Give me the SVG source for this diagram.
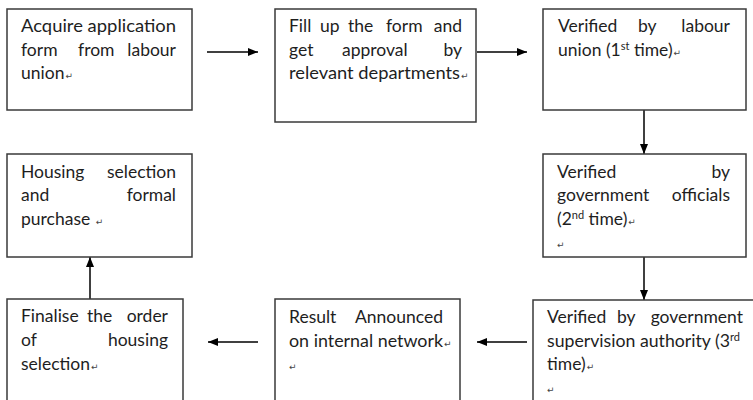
<svg xmlns="http://www.w3.org/2000/svg" width="753" height="400" viewBox="0 0 753 400">
<defs>
<style>
.box{fill:#fff;stroke:#3a3a3a;stroke-width:1.5}
.t{font-family:Lato,"Open Sans","Liberation Sans",sans-serif;font-size:17.5px;fill:#1e1e1e}
.e{text-anchor:end}
.pm{font-family:"DejaVu Sans",sans-serif;font-size:9px;fill:#444}
.sup{font-size:11px}
.c{stroke:#000;stroke-width:1.5;fill:none;marker-end:url(#ah)}
</style>
<marker id="ah" viewBox="0 0 10 8" refX="10" refY="4" markerWidth="10" markerHeight="8" markerUnits="userSpaceOnUse" orient="auto">
<path d="M0,0 L10,4 L0,8 z" fill="#000"/>
</marker>
</defs>
<rect width="753" height="400" fill="#fff"/>
<g id="connectors">
<line class="c" x1="207" y1="52" x2="258" y2="52"/>
<line class="c" x1="477" y1="52" x2="527" y2="52"/>
<line class="c" x1="644" y1="110" x2="644" y2="154"/>
<line class="c" x1="644" y1="257" x2="644" y2="300"/>
<line class="c" x1="527" y1="342" x2="477" y2="342"/>
<line class="c" x1="258" y1="342" x2="208" y2="342"/>
<line class="c" x1="90" y1="299" x2="90" y2="257"/>
</g>
<g id="n1">
<rect class="box" x="7" y="9" width="185" height="101"/>
<text class="t" x="21" y="32" textLength="155" lengthAdjust="spacingAndGlyphs">Acquire application</text>
<text class="t" x="21" y="56">form</text><text class="t" x="78" y="56">from</text><text class="t e" x="176" y="56">labour</text>
<text class="t" x="21" y="79">union<tspan class="pm" dx="1">↵</tspan></text>
</g>
<g id="n2">
<rect class="box" x="275" y="9" width="201" height="113"/>
<text class="t" x="289" y="32">Fill</text><text class="t" x="320" y="32">up</text><text class="t" x="348" y="32">the</text><text class="t" x="386" y="32">form</text><text class="t e" x="462" y="32">and</text>
<text class="t" x="289" y="56">get</text><text class="t" x="342" y="56">approval</text><text class="t e" x="462" y="56">by</text>
<text class="t" x="289" y="79"><tspan textLength="171" lengthAdjust="spacingAndGlyphs">relevant departments</tspan><tspan class="pm" dx="1">↵</tspan></text>
</g>
<g id="n3">
<rect class="box" x="543" y="9" width="203" height="101"/>
<text class="t" x="558" y="32">Verified</text><text class="t" x="638" y="32">by</text><text class="t e" x="730" y="32">labour</text>
<text class="t" x="558" y="56">union (1<tspan class="sup" dy="-6">st</tspan><tspan dy="6"> time)</tspan><tspan class="pm" dx="1">↵</tspan></text>
</g>
<g id="n4">
<rect class="box" x="543" y="154" width="203" height="103"/>
<text class="t" x="557" y="178">Verified</text><text class="t e" x="730" y="178">by</text>
<text class="t" x="557" y="201">government</text><text class="t e" x="730" y="201">officials</text>
<text class="t" x="557" y="225">(2<tspan class="sup" dy="-6">nd</tspan><tspan dy="6"> time)</tspan><tspan class="pm" dx="1">↵</tspan></text>
<text class="pm" x="557" y="248">↵</text>
</g>
<g id="n5">
<rect class="box" x="7" y="154" width="185" height="103"/>
<text class="t" x="21" y="178">Housing</text><text class="t e" x="176" y="178">selection</text>
<text class="t" x="21" y="201">and</text><text class="t e" x="176" y="201">formal</text>
<text class="t" x="21" y="225">purchase <tspan class="pm" dx="1">↵</tspan></text>
</g>
<g id="n6">
<rect class="box" x="7" y="299" width="176" height="130"/>
<text class="t" x="21" y="322">Finalise</text><text class="t" x="87" y="322">the</text><text class="t e" x="168" y="322">order</text>
<text class="t" x="21" y="346">of</text><text class="t e" x="168" y="346">housing</text>
<text class="t" x="21" y="370">selection<tspan class="pm" dx="1">↵</tspan></text>
</g>
<g id="n7">
<rect class="box" x="275" y="299" width="185" height="130"/>
<text class="t" x="289" y="323">Result</text><text class="t e" x="443" y="323">Announced</text>
<text class="t" x="289" y="347"><tspan textLength="154" lengthAdjust="spacingAndGlyphs">on internal network</tspan><tspan class="pm" dx="1">↵</tspan></text>
<text class="pm" x="289" y="370">↵</text>
</g>
<g id="n8">
<rect class="box" x="533" y="300" width="240" height="130"/>
<text class="t" x="547" y="323">Verified</text><text class="t" x="617" y="323">by</text><text class="t e" x="743" y="323">government</text>
<text class="t" x="547" y="347"><tspan textLength="183" lengthAdjust="spacingAndGlyphs">supervision authority (3</tspan><tspan class="sup" dy="-6">rd</tspan></text>
<text class="t" x="547" y="370">time)<tspan class="pm" dx="1">↵</tspan></text>
<text class="pm" x="547" y="393">↵</text>
</g>
</svg>
